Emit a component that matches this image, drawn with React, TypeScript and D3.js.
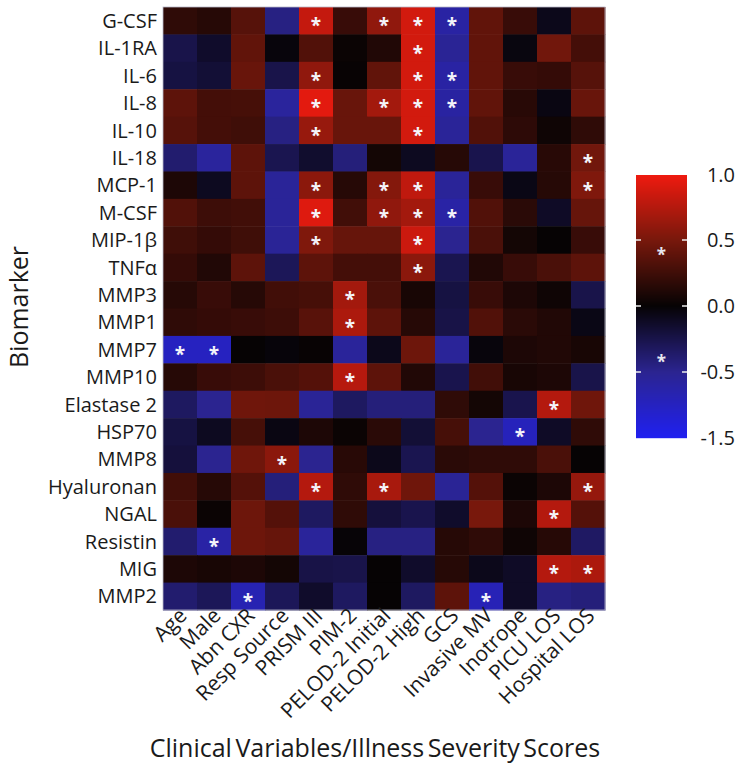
import React, { useEffect, useRef } from "react";
import { select, scaleBand, scaleLinear, range } from "d3";

const biomarkers = [
  "G-CSF", "IL-1RA", "IL-6", "IL-8", "IL-10", "IL-18", "MCP-1", "M-CSF",
  "MIP-1β", "TNFα", "MMP3", "MMP1", "MMP7", "MMP10", "Elastase 2", "HSP70",
  "MMP8", "Hyaluronan", "NGAL", "Resistin", "MIG", "MMP2"
];

const variables = [
  "Age", "Male", "Abn CXR", "Resp Source", "PRISM III", "PIM-2",
  "PELOD-2 Initial", "PELOD-2 High", "GCS", "Invasive MV", "Inotrope",
  "PICU LOS", "Hospital LOS"
];

// one row per biomarker, one value per clinical variable
const correlations = [
  [0.18, 0.14, 0.35, -0.45, 0.82, 0.22, 0.6, 0.88, -0.7, 0.4, 0.22, -0.08, 0.38],
  [-0.25, -0.14, 0.4, -0.03, 0.33, 0.02, 0.12, 0.88, -0.55, 0.4, -0.04, 0.47, 0.27],
  [-0.22, -0.18, 0.43, -0.25, 0.6, 0.01, 0.4, 0.88, -0.7, 0.4, 0.22, 0.2, 0.35],
  [0.38, 0.27, 0.28, -0.62, 0.95, 0.43, 0.68, 0.88, -0.68, 0.4, 0.15, -0.05, 0.43],
  [0.35, 0.27, 0.25, -0.45, 0.63, 0.43, 0.43, 0.88, -0.58, 0.33, 0.17, 0.04, 0.18],
  [-0.38, -0.62, 0.38, -0.27, -0.15, -0.42, 0.06, -0.1, 0.14, -0.26, -0.58, 0.15, 0.47],
  [0.1, -0.1, 0.38, -0.58, 0.58, 0.14, 0.55, 0.8, -0.58, 0.22, -0.06, 0.14, 0.53],
  [0.33, 0.24, 0.26, -0.58, 0.93, 0.26, 0.6, 0.68, -0.72, 0.33, 0.16, -0.12, 0.42],
  [0.25, 0.2, 0.25, -0.56, 0.53, 0.42, 0.42, 0.85, -0.5, 0.3, 0.06, 0.0, 0.22],
  [0.2, 0.12, 0.38, -0.3, 0.38, 0.27, 0.27, 0.58, -0.27, 0.12, 0.22, 0.3, 0.38],
  [0.14, 0.22, 0.14, 0.26, 0.28, 0.68, 0.3, 0.08, -0.22, 0.22, 0.1, 0.04, -0.25],
  [0.18, 0.2, 0.22, 0.24, 0.36, 0.72, 0.38, 0.14, -0.24, 0.33, 0.16, 0.12, -0.06],
  [-1.0, -1.0, 0.0, -0.02, 0.01, -0.6, -0.08, 0.45, -0.58, -0.03, 0.1, 0.12, 0.08],
  [0.14, 0.22, 0.24, 0.3, 0.34, 0.76, 0.38, 0.12, -0.26, 0.26, 0.08, 0.1, -0.25],
  [-0.33, -0.5, 0.46, 0.45, -0.56, -0.33, -0.42, -0.42, 0.18, 0.06, -0.26, 0.75, 0.46],
  [-0.22, -0.1, 0.28, -0.05, 0.1, 0.02, 0.16, -0.18, 0.28, -0.5, -0.95, -0.12, 0.18],
  [-0.2, -0.5, 0.46, 0.58, -0.5, 0.15, -0.08, -0.27, 0.16, 0.18, 0.18, 0.3, 0.0],
  [0.26, 0.14, 0.34, -0.42, 0.75, 0.18, 0.7, 0.46, -0.55, 0.34, 0.02, 0.1, 0.62],
  [0.3, 0.02, 0.45, 0.34, -0.33, 0.18, -0.2, -0.26, -0.14, 0.5, 0.1, 0.75, 0.34],
  [-0.38, -0.72, 0.45, 0.42, -0.6, -0.01, -0.45, -0.45, 0.14, 0.18, 0.04, 0.14, -0.34],
  [0.1, 0.08, 0.1, 0.06, -0.24, -0.25, 0.0, -0.14, 0.14, -0.08, -0.12, 0.75, 0.72],
  [-0.38, -0.3, -0.85, -0.3, -0.14, -0.33, 0.0, -0.33, 0.38, -0.9, -0.12, -0.45, -0.42]
];

// column indexes flagged with an asterisk, per biomarker row
const significant = [
  [4, 6, 7, 8], [7], [4, 7, 8], [4, 6, 7, 8], [4, 7], [12], [4, 6, 7, 12],
  [4, 6, 7, 8], [4, 7], [7], [5], [5], [0, 1], [5], [11], [10], [3],
  [4, 6, 12], [11], [1], [11, 12], [2, 9]
];

const legendTicks = [1, 0.5, 0, -0.5, -1.5];
const legendTickLabels = ["1.0", "0.5", "0.0", "-0.5", "-1.5"];
const legendMarks = [0.42, -0.39];

const FONT = "'Open Sans', sans-serif";

function App() {
  const svgRef = useRef<SVGSVGElement>(null);

  useEffect(() => {
    const svg = select(svgRef.current);
    svg.selectAll("*").remove();

    const x = scaleBand<string>().domain(variables).range([163, 605]);
    const y = scaleBand<string>().domain(biomarkers).range([7, 610]);

    const color = scaleLinear<string>()
      .domain([-1.5, -0.5, 0, 0.5, 1])
      .range(["#2020f0", "#2b2490", "#060304", "#78180c", "#ef1a0f"]);

    // legend position scale (uneven steps, as in the original bar)
    const ly = scaleLinear().domain([-1.5, -0.5, 0, 0.5, 1]).range([438, 372, 306, 240, 175]);

    const cells = correlations.flatMap((row, i) =>
      row.map((v, j) => ({ b: biomarkers[i], c: variables[j], v }))
    );

    svg.append("g")
      .selectAll("rect")
      .data(cells)
      .join("rect")
      .attr("x", d => x(d.c)!)
      .attr("y", d => y(d.b)!)
      .attr("width", x.bandwidth() + 0.5)
      .attr("height", y.bandwidth() + 0.5)
      .attr("fill", d => color(d.v));

    svg.append("rect")
      .attr("x", 163)
      .attr("y", 7)
      .attr("width", 442)
      .attr("height", 603)
      .attr("fill", "none")
      .attr("stroke", "#b8b8c8")
      .attr("stroke-width", 0.8);

    const stars = significant.flatMap((cols, i) =>
      cols.map(j => ({ b: biomarkers[i], c: variables[j] }))
    );

    svg.append("g")
      .selectAll("text")
      .data(stars)
      .join("text")
      .attr("x", d => x(d.c)! + x.bandwidth() / 2)
      .attr("y", d => y(d.b)! + y.bandwidth() / 2)
      .attr("dy", "0.6em")
      .attr("text-anchor", "middle")
      .attr("font-family", FONT)
      .attr("font-weight", "bold")
      .attr("font-size", 19)
      .attr("fill", "#f4f4fa")
      .text("*");

    // row labels
    svg.append("g")
      .selectAll("text")
      .data(biomarkers)
      .join("text")
      .attr("x", 157)
      .attr("y", d => y(d)! + y.bandwidth() / 2)
      .attr("dy", "0.36em")
      .attr("text-anchor", "end")
      .attr("font-family", FONT)
      .attr("font-size", 20)
      .attr("fill", "#1a1a1a")
      .text(d => d);

    // column labels
    svg.append("g")
      .selectAll("text")
      .data(variables)
      .join("text")
      .attr("transform", d => `translate(${x(d)! + x.bandwidth() / 2 + 8},617) rotate(-45)`)
      .attr("text-anchor", "end")
      .attr("font-family", FONT)
      .attr("font-size", 21)
      .attr("fill", "#1a1a1a")
      .text(d => d);

    svg.append("text")
      .attr("x", 375)
      .attr("y", 757)
      .attr("text-anchor", "middle")
      .attr("font-family", FONT)
      .attr("font-size", 25)
      .attr("word-spacing", -3)
      .attr("fill", "#1a1a1a")
      .text("Clinical Variables/Illness Severity Scores");

    svg.append("text")
      .attr("transform", "translate(28,307) rotate(-90)")
      .attr("text-anchor", "middle")
      .attr("font-family", FONT)
      .attr("font-size", 25)
      .attr("fill", "#1a1a1a")
      .text("Biomarker");

    // colour bar
    const legend = svg.append("g");
    const steps = range(175, 438, 1);
    legend.selectAll("rect")
      .data(steps)
      .join("rect")
      .attr("x", 636)
      .attr("y", d => d)
      .attr("width", 51)
      .attr("height", 1.2)
      .attr("fill", d => color(ly.invert(d + 0.5)));

    const inner = legendTicks.filter(t => t !== 1 && t !== -1.5);
    legend.selectAll(".tl")
      .data(inner)
      .join("line")
      .attr("class", "tl")
      .attr("x1", 636).attr("x2", 641)
      .attr("y1", d => ly(d)).attr("y2", d => ly(d))
      .attr("stroke", "#eee").attr("stroke-width", 1.5);
    legend.selectAll(".tr")
      .data(inner)
      .join("line")
      .attr("class", "tr")
      .attr("x1", 682).attr("x2", 687)
      .attr("y1", d => ly(d)).attr("y2", d => ly(d))
      .attr("stroke", "#eee").attr("stroke-width", 1.5);

    legend.selectAll(".lm")
      .data(legendMarks)
      .join("text")
      .attr("class", "lm")
      .attr("x", 661.5)
      .attr("y", d => ly(d))
      .attr("dy", "0.6em")
      .attr("text-anchor", "middle")
      .attr("font-family", FONT)
      .attr("font-weight", "bold")
      .attr("font-size", 17)
      .attr("fill", "#e8e8f0")
      .text("*");

    legend.selectAll(".lt")
      .data(legendTicks)
      .join("text")
      .attr("class", "lt")
      .attr("x", 735)
      .attr("y", d => ly(d))
      .attr("dy", "0.36em")
      .attr("text-anchor", "end")
      .attr("font-family", FONT)
      .attr("font-size", 20)
      .attr("fill", "#1a1a1a")
      .text((d, i) => legendTickLabels[i]);
  }, []);

  return (
    <svg
      ref={svgRef}
      width={744}
      height={771}
      style={{ position: "absolute", left: 0, top: 0, background: "#fff" }}
    />
  );
}

export default App;
